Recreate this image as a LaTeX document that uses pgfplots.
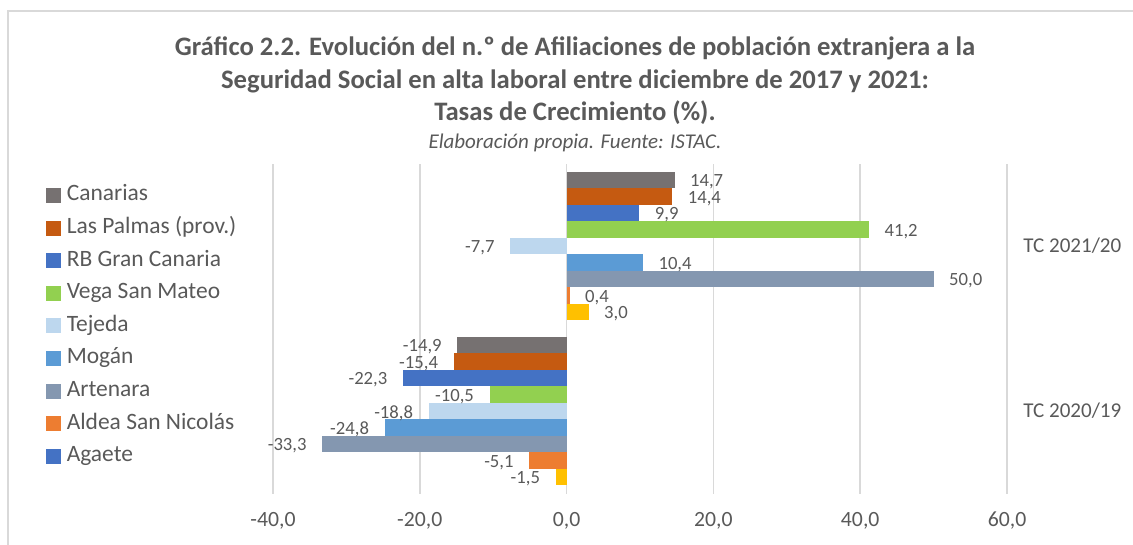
\documentclass[border=0pt]{standalone}
\usepackage{fontspec}
\setmainfont{Carlito}
\usepackage{pgfplots}
\pgfplotsset{compat=1.18}
\definecolor{txt}{HTML}{595959}
\definecolor{gridc}{HTML}{D9D9D9}
\definecolor{cCan}{HTML}{767171}
\definecolor{cLP}{HTML}{C55A11}
\definecolor{cRB}{HTML}{4472C4}
\definecolor{cVSM}{HTML}{92D050}
\definecolor{cTej}{HTML}{BDD7EE}
\definecolor{cMog}{HTML}{5B9BD5}
\definecolor{cArt}{HTML}{8497B0}
\definecolor{cAld}{HTML}{ED7D31}
\definecolor{cAga}{HTML}{FFC000}
\newcommand\legsq[2]{\addlegendimage{legend image code/.code={\fill[#1] (0pt,-5.25pt) rectangle (10.5pt,5.25pt);}}\addlegendentry{#2}}
\pgfplotsset{
  basebar/.style={xbar, bar width=1, bar shift=0pt, draw=none, fill=#1, forget plot,
    point meta=x,
    nodes near coords={\pgfmathprintnumber[fixed,fixed zerofill,precision=1,use comma,assume math mode=true]{\pgfplotspointmeta}}},
  posbar/.style={basebar=#1,
    nodes near coords style={anchor=west, inner sep=0pt, xshift=11.5pt, yshift=-1.5pt, font=\fontsize{14}{16}\selectfont, text=txt}},
  negbar/.style={basebar=#1,
    nodes near coords style={anchor=east, inner sep=0pt, xshift=-11.5pt, yshift=-1.5pt, font=\fontsize{14}{16}\selectfont, text=txt}},
}
\begin{document}
\begin{tikzpicture}
\useasboundingbox (0pt,0pt) rectangle (849.75pt,-408pt);
\draw[gridc, line width=1.1pt] (6pt,-410pt) -- (6pt,-8.25pt) -- (852pt,-8.25pt);
\node[anchor=base, font=\bfseries\fontsize{20}{24}\selectfont, text=txt] at (431.25pt,-41.25pt) {Gráfico 2.2. Evolución del n.º de Afiliaciones de población extranjera a la};
\node[anchor=base, font=\bfseries\fontsize{20}{24}\selectfont, text=txt] at (431.25pt,-66pt) {Seguridad Social en alta laboral entre diciembre de 2017 y 2021:};
\node[anchor=base, font=\bfseries\fontsize{20}{24}\selectfont, text=txt] at (431.25pt,-90pt) {Tasas de Crecimiento (\%).};
\node[anchor=base, font=\itshape\fontsize{15.75}{18}\selectfont, text=txt] at (431.25pt,-111pt) {Elaboración propia. Fuente: ISTAC.};
\begin{axis}[
  at={(204.75pt,-370.125pt)}, anchor=south west,
  scale only axis, width=550.5pt, height=247.5pt,
  xmin=-40, xmax=60, ymin=0, ymax=20,
  xtick={-40,-20,0,20,40,60},
  ytick={5,15}, yticklabels={TC 2020/19,TC 2021/20},
  yticklabel pos=right,
  axis line style={draw=none}, major tick length=0pt,
  xmajorgrids, grid style={gridc, line width=1.1pt},
  scaled x ticks=false,
  xticklabel={\pgfmathprintnumber[fixed,fixed zerofill,precision=1,use comma,assume math mode=true]{\tick}},
  xticklabel style={anchor=center, yshift=-20.6pt, font=\fontsize{16.3}{18}\selectfont, text=txt},
  yticklabel style={anchor=west, inner sep=0pt, xshift=12pt, font=\fontsize{15.8}{18}\selectfont, text=txt},
  legend style={at={(-0.3093,0.938)}, anchor=north west, draw=none, fill=none, inner sep=0pt,
    row sep=7.95pt, column sep=4.5pt, font=\fontsize{17.6}{20}\selectfont, text=txt,
    nodes={inner sep=0pt, text height=12.5pt, text depth=4pt}},
  legend cell align=left,
]
% TC 2021/20 (top group)
\addplot[posbar=cCan] coordinates {(14.7,19)};
\addplot[posbar=cLP]  coordinates {(14.4,18)};
\addplot[posbar=cRB]  coordinates {(9.9,17)};
\addplot[posbar=cVSM] coordinates {(41.2,16)};
\addplot[negbar=cTej] coordinates {(-7.7,15)};
\addplot[posbar=cMog] coordinates {(10.4,14)};
\addplot[posbar=cArt] coordinates {(50.0,13)};
\addplot[posbar=cAld] coordinates {(0.4,12)};
\addplot[posbar=cAga] coordinates {(3.0,11)};
% TC 2020/19 (bottom group)
\addplot[negbar=cCan] coordinates {(-14.9,9)};
\addplot[negbar=cLP]  coordinates {(-15.4,8)};
\addplot[negbar=cRB]  coordinates {(-22.3,7)};
\addplot[negbar=cVSM] coordinates {(-10.5,6)};
\addplot[negbar=cTej] coordinates {(-18.8,5)};
\addplot[negbar=cMog] coordinates {(-24.8,4)};
\addplot[negbar=cArt] coordinates {(-33.3,3)};
\addplot[negbar=cAld] coordinates {(-5.1,2)};
\addplot[negbar=cAga] coordinates {(-1.5,1)};
\legsq{cCan}{Canarias}
\legsq{cLP}{Las Palmas (prov.)}
\legsq{cRB}{RB Gran Canaria}
\legsq{cVSM}{Vega San Mateo}
\legsq{cTej}{Tejeda}
\legsq{cMog}{Mogán}
\legsq{cArt}{Artenara}
\legsq{cAld}{Aldea San Nicolás}
\legsq{cRB}{Agaete}
\end{axis}
\end{tikzpicture}
\end{document}
